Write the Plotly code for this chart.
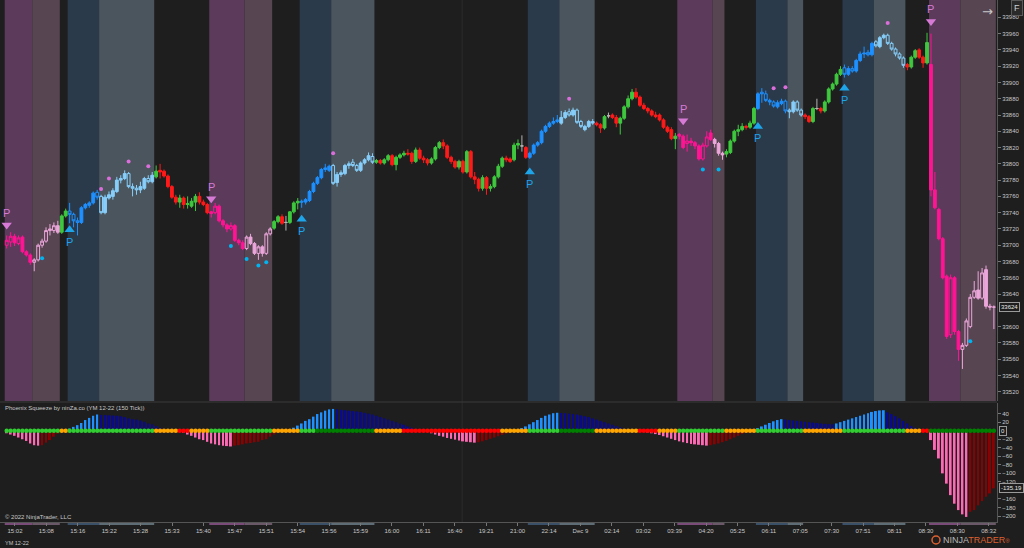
import plotly.graph_objects as go

# ---------------- DATA ----------------
OPEN = [
 33700,33704,33711,33702,33710,33692,33688,33679,33682,33700,
 33705,33718,33718,33724,33716,33736,33742,33738,33730,33728,
 33746,33749,33752,33765,33760,33740,33758,33760,33766,33780,
 33782,33788,33772,33770,33768,33770,33782,33778,33784,33792,
 33791,33785,33772,33759,33753,33758,33750,33748,33753,33760,
 33753,33750,33741,33740,33748,33730,33725,33720,33724,33706,
 33703,33696,33710,33702,33690,33698,33690,33714,33721,33729,
 33735,33728,33728,33741,33752,33754,33753,33755,33766,33776,
 33783,33793,33792,33798,33777,33787,33788,33798,33802,33798,
 33792,33801,33805,33809,33802,33804,33801,33805,33810,33799,
 33808,33811,33813,33813,33803,33817,33807,33805,33801,33806,
 33820,33826,33822,33808,33803,33796,33803,33790,33815,33784,
 33781,33770,33783,33770,33772,33784,33797,33807,33806,33805,
 33823,33822,33820,33808,33813,33823,33826,33840,33846,33850,
 33852,33850,33857,33864,33860,33866,33852,33842,33846,33852,
 33850,33848,33844,33859,33860,33857,33850,33856,33870,33880,
 33888,33882,33872,33868,33865,33860,33860,33854,33845,33842,
 33831,33836,33834,33825,33828,33826,33822,33806,33822,33838,
 33830,33825,33813,33812,33814,33828,33840,33842,33846,33845,
 33850,33868,33888,33886,33878,33876,33870,33874,33877,33866,
 33864,33876,33866,33860,33858,33852,33868,33868,33865,33876,
 33892,33898,33910,33918,33910,33917,33914,33927,33935,33937,
 33934,33950,33944,33955,33958,33948,33941,33935,33930,33922,
 33919,33931,33940,33931,33924,33922,33768,33744,33708,33662,
 33590,33660,33594,33572,33577,33600,33636,33645,33635,33670,
 33625,33624]
HIGH = [
 33712,33716,33714,33712,33712,33694,33690,33684,33702,33708,
 33722,33726,33728,33730,33738,33745,33752,33740,33734,33748,
 33752,33754,33766,33768,33762,33762,33766,33770,33784,33786,
 33792,33790,33776,33774,33778,33784,33786,33790,33798,33800,
 33793,33787,33774,33762,33762,33760,33760,33758,33763,33765,
 33756,33752,33742,33752,33750,33732,33727,33728,33726,33708,
 33706,33712,33714,33704,33700,33700,33716,33722,33731,33737,
 33738,33736,33742,33754,33758,33756,33758,33768,33778,33785,
 33795,33800,33799,33800,33790,33792,33800,33803,33806,33800,
 33803,33807,33814,33813,33806,33806,33807,33812,33812,33810,
 33813,33816,33818,33815,33820,33820,33810,33807,33808,33822,
 33828,33830,33824,33810,33805,33805,33805,33817,33817,33790,
 33783,33786,33785,33775,33786,33800,33809,33810,33808,33826,
 33830,33835,33822,33815,33825,33828,33842,33848,33852,33857,
 33860,33865,33866,33868,33869,33868,33854,33848,33854,33855,
 33852,33850,33860,33863,33862,33860,33858,33872,33884,33892,
 33893,33884,33875,33870,33867,33864,33862,33856,33847,33845,
 33838,33838,33836,33836,33832,33828,33824,33826,33840,33842,
 33832,33827,33815,33818,33830,33842,33848,33850,33848,33853,
 33870,33888,33893,33890,33880,33878,33878,33880,33879,33868,
 33878,33878,33868,33862,33860,33870,33880,33870,33878,33894,
 33900,33912,33920,33922,33920,33920,33929,33938,33944,33940,
 33950,33952,33957,33960,33960,33950,33943,33937,33932,33924,
 33933,33941,33942,33933,33961,33960,33790,33746,33710,33664,
 33664,33662,33596,33580,33610,33640,33656,33668,33672,33675,
 33628,33626]
LOW = [
 33696,33698,33699,33700,33690,33686,33676,33668,33680,33697,
 33703,33712,33715,33714,33714,33734,33727,33722,33712,33726,
 33744,33746,33750,33756,33738,33738,33756,33756,33764,33776,
 33780,33770,33760,33762,33764,33768,33776,33776,33782,33782,
 33783,33770,33757,33750,33746,33745,33745,33746,33742,33750,
 33748,33738,33734,33738,33728,33722,33716,33718,33704,33700,
 33694,33694,33700,33688,33682,33686,33688,33712,33719,33727,
 33725,33718,33726,33739,33744,33746,33750,33753,33764,33774,
 33781,33790,33790,33774,33772,33784,33786,33794,33796,33790,
 33790,33799,33803,33800,33800,33799,33799,33803,33797,33792,
 33806,33809,33810,33800,33801,33805,33801,33798,33799,33804,
 33818,33818,33806,33800,33794,33793,33788,33788,33782,33775,
 33766,33767,33762,33766,33770,33782,33795,33802,33801,33803,
 33818,33815,33806,33806,33811,33821,33824,33838,33844,33848,
 33850,33848,33855,33858,33858,33849,33844,33840,33844,33848,
 33846,33838,33842,33856,33855,33845,33836,33854,33868,33878,
 33880,33870,33866,33862,33858,33856,33852,33843,33838,33829,
 33818,33830,33818,33815,33822,33818,33804,33804,33820,33828,
 33820,33810,33805,33808,33812,33826,33834,33840,33842,33843,
 33848,33866,33875,33876,33872,33869,33868,33872,33862,33856,
 33862,33864,33858,33855,33850,33850,33866,33862,33863,33874,
 33890,33896,33908,33906,33908,33912,33912,33925,33930,33932,
 33932,33943,33942,33953,33946,33939,33932,33928,33918,33915,
 33917,33929,33929,33918,33922,33760,33744,33706,33658,33585,
 33586,33590,33558,33548,33575,33598,33634,33633,33633,33622,
 33620,33597]
CLOSE = [
 33706,33711,33703,33709,33692,33688,33679,33682,33700,33705,
 33718,33720,33724,33716,33736,33742,33738,33730,33728,33746,
 33750,33752,33764,33759,33740,33759,33762,33767,33780,33782,
 33788,33772,33770,33768,33772,33782,33778,33786,33791,33790,
 33785,33772,33759,33753,33758,33750,33751,33754,33760,33753,
 33750,33740,33739,33748,33730,33725,33720,33724,33706,33703,
 33696,33710,33702,33690,33698,33690,33714,33720,33729,33735,
 33727,33728,33741,33752,33754,33753,33756,33766,33776,33783,
 33793,33795,33797,33776,33787,33789,33798,33800,33798,33792,
 33801,33805,33810,33802,33804,33801,33805,33810,33799,33808,
 33811,33813,33812,33803,33817,33807,33805,33801,33806,33820,
 33826,33822,33808,33803,33796,33803,33790,33815,33784,33781,
 33770,33783,33770,33772,33784,33797,33807,33805,33803,33823,
 33825,33822,33808,33813,33823,33826,33840,33846,33850,33852,
 33854,33857,33863,33860,33866,33851,33846,33846,33852,33850,
 33848,33844,33858,33859,33857,33850,33856,33870,33880,33888,
 33882,33872,33868,33865,33860,33858,33854,33845,33840,33831,
 33834,33834,33820,33828,33826,33822,33806,33823,33833,33830,
 33825,33813,33811,33815,33828,33840,33842,33846,33845,33850,
 33868,33886,33886,33878,33876,33871,33875,33877,33865,33864,
 33876,33866,33860,33858,33852,33868,33868,33865,33876,33892,
 33898,33910,33916,33910,33917,33914,33927,33935,33936,33934,
 33948,33945,33955,33958,33948,33941,33935,33930,33921,33919,
 33931,33939,33931,33924,33949,33768,33746,33708,33660,33588,
 33660,33594,33572,33577,33607,33636,33644,33635,33666,33625,
 33624,33624]

# squeeze-fire regimes painted behind the price (kind, first bar, last bar)
BANDS = [("M", 0, 6), ("m", 7, 13), ("B", 16, 23), ("b", 24, 37),
         ("M", 52, 60), ("m", 61, 67), ("B", 75, 82), ("b", 83, 93),
         ("B", 133, 140), ("b", 141, 149), ("M", 171, 179), ("m", 180, 182),
         ("B", 191, 198), ("b", 199, 202), ("B", 213, 220), ("b", 221, 228),
         ("M", 235, 242), ("m", 243, 251)]

# momentum histogram (lower panel)
HIST = ([-6,-9,-12,-16,-20,-24,-30,-34,-35,-34,-28,-22,-14,-7,-2]
        + [1,5,9,13,18,25,30,35,38]
        + [37,36.5,36,35.5,35,34,32,29,27,26,24,21,17,15,11,7,3]
        + [1,-1,-2,-3]
        + [-4.5,-9,-12,-16,-20,-22,-26,-30,-32,-34,-35,-36,-37]
        + [-35,-34,-32,-30,-29,-27,-26,-22,-20,-14,-9,-4]
        + [-2,0.5,2]
        + [7,12,17,23,27,33,39,43,47,50,51]
        + [50,49,48,47,46,45,44,42,40,38,35,32,29,26,23,20,17,14,10,7,4,2]
        + [-1,-3,-6,-9,-12,-14,-17,-19,-21,-23,-25,-26,-27,-28]
        + [-27,-25,-22,-19,-16,-13,-10,-7,-4,-2]
        + [2,6,10,15,20,25,30,35,38,41,42]
        + [41.5,41,40,39,38,36,34,32,29,26,23,20,17,14,11,8,5,2]
        + [1.5,1,0.5]
        + [-2,-4,-6,-8,-10,-13,-16,-19,-22,-25,-27,-29,-31,-32,-33,-34,-35]
        + [-34,-32,-30,-27,-24,-20,-16,-12,-8,-5,-2]
        + [2,6,10,14,18,22,25,27]
        + [26,25,24,23,22,21,20,19,18,17,16,15.5,15]
        + [17,20,23,26,29,32,35,38,41,44,46,47.5,48]
        + [43,39,34,29,23,17,11,7,4,2,1]
        + [-22,-45,-65,-100,-124,-151,-171,-186,-196,-202]
        + [-190,-186,-175,-165,-155,-147,-135.19])

# squeeze state dots on the zero line (state, first bar, last bar)
SQZ = [("G",0,13),("O",14,15),("G",16,37),("O",38,43),("R",44,46),("O",47,51),
       ("G",52,67),("O",68,74),("G",75,78),("D",79,93),("O",94,100),("R",101,125),
       ("O",126,132),("G",133,140),("D",141,149),("O",150,160),("R",161,165),
       ("O",166,170),("G",171,182),("O",183,190),("G",191,202),("O",203,212),
       ("G",213,228),("O",229,232),("R",233,234),("D",235,251)]

X_LABELS = ["15:02","15:08","15:16","15:22","15:28","15:33","15:40","15:47","15:51",
            "15:54","15:56","15:59","16:00","16:11","16:40","19:21","21:00","22:14",
            "Dec 9","02:14","03:02","03:39","04:20","05:25","06:11","07:05","07:30",
            "07:51","08:11","08:30","08:30","08:32"]

P_DOWN = [(0, 33725), (52, 33757), (172, 33853), (235, 33975)]   # bar, price of marker
P_UP = [(16, 33719), (75, 33732), (133, 33790), (191, 33846), (213, 33893)]
DOTS_ABOVE = [(24, 33769), (26, 33782), (31, 33803), (36, 33797), (83, 33813),
              (143, 33880), (195, 33893), (198, 33894), (224, 33973)]
DOTS_BELOW = [(9, 33684), (57, 33699), (61, 33683), (64, 33675), (66, 33679),
              (177, 33793), (181, 33793), (245, 33582)]

LAST_PRICE = 33624
LAST_MOM = -135.19

# ---------------- STYLE ----------------
W, H = 1024, 548
BG = "#1e1e1e"
FONT = "Liberation Sans"
TXT = "#c8c8c8"
BAND_FILL = {"M": "#5c3a5c", "m": "#574552", "B": "#2a3a4b", "b": "#4a555d"}
BAND_STRIP = {"M": "#7a4a78", "m": "#6a5868", "B": "#3a5068", "b": "#5e6c76"}
PAINT = {"M": ("#ff1493", "up_hollow"), "m": ("#eba6da", "up_hollow"),
         "B": ("#1e90ff", "down_hollow"), "b": ("#87cefa", "down_hollow")}
UP_COL, DN_COL, DOJI_COL = "#3fc83f", "#ff1a1a", "#b4b4b4"
SQZ_COL = {"G": "#32cd32", "O": "#ffa500", "R": "#ff0000", "D": "#008000"}
P_PINK, P_BLUE = "#d67ad6", "#1ea4e8"

N = len(CLOSE)
assert len(OPEN) == len(HIGH) == len(LOW) == N == len(HIST) == 252

PX_X0, PX_DX = 6.7, 3.933          # pixel of bar 0, pixels per bar
PLOT_R = 997
X_LO = -PX_X0 / PX_DX
X_HI = (PLOT_R - PX_X0) / PX_DX
MAIN_TOP, MAIN_BOT = 0, 401
LOW_TOP, LOW_BOT = 403, 522
Y_RANGE = [33508.6, 34001.3]
Y2_RANGE = [-213.9, 64.9]

def py(px):
    return 1 - px / H

kind_of = ["N"] * N
for k, a, b in BANDS:
    for i in range(a, b + 1):
        kind_of[i] = k

fig = go.Figure()

# background bands
for k, a, b in BANDS:
    fig.add_shape(type="rect", xref="x", yref="y domain", x0=a - 0.5, x1=b + 0.5,
                  y0=0, y1=1, fillcolor=BAND_FILL[k], line_width=0, layer="below")
    fig.add_shape(type="rect", xref="x", yref="paper", x0=a - 0.5, x1=b + 0.5,
                  y0=py(525), y1=py(523), fillcolor=BAND_STRIP[k], line_width=0, layer="below")

# session break line
fig.add_shape(type="line", xref="x", yref="paper", x0=115.8, x1=115.8, y0=py(LOW_BOT), y1=1,
              line=dict(color="#2c2c2c", width=1), layer="below")

# separator between panels
fig.add_shape(type="line", xref="paper", yref="paper", x0=0, x1=PLOT_R / W,
              y0=py(402), y1=py(402), line=dict(color="#3a3a3a", width=1))

CLEAR = "rgba(0,0,0,0)"
def add_candles(idx, inc_line, inc_fill, dec_line, dec_fill):
    if not idx:
        return
    fig.add_trace(go.Candlestick(
        x=idx, open=[OPEN[i] for i in idx], high=[HIGH[i] for i in idx],
        low=[LOW[i] for i in idx], close=[CLOSE[i] for i in idx],
        increasing=dict(line=dict(color=inc_line, width=1), fillcolor=inc_fill),
        decreasing=dict(line=dict(color=dec_line, width=1), fillcolor=dec_fill),
        whiskerwidth=0, hoverinfo="none", showlegend=False, xaxis="x", yaxis="y"))

for k, (col, mode) in PAINT.items():
    idx = [i for i in range(N) if kind_of[i] == k]
    if mode == "up_hollow":
        add_candles(idx, col, CLEAR, col, col)
    else:
        add_candles(idx, col, col, col, CLEAR)

neutral = [i for i in range(N) if kind_of[i] == "N" and OPEN[i] != CLOSE[i]]
doji = [i for i in range(N) if kind_of[i] == "N" and OPEN[i] == CLOSE[i]]
add_candles(neutral, UP_COL, UP_COL, DN_COL, DN_COL)
add_candles(doji, DOJI_COL, DOJI_COL, DOJI_COL, DOJI_COL)

# signal dots
fig.add_trace(go.Scatter(x=[b for b, _ in DOTS_ABOVE], y=[p for _, p in DOTS_ABOVE],
                         mode="markers", marker=dict(size=4, color="#dc6edc"),
                         hoverinfo="none", showlegend=False))
fig.add_trace(go.Scatter(x=[b for b, _ in DOTS_BELOW], y=[p for _, p in DOTS_BELOW],
                         mode="markers", marker=dict(size=4, color="#00b4f0"),
                         hoverinfo="none", showlegend=False))

# P markers
fig.add_trace(go.Scatter(x=[b for b, _ in P_DOWN], y=[p for _, p in P_DOWN], mode="markers",
                         marker=dict(symbol="triangle-down", size=9, color=P_PINK),
                         hoverinfo="none", showlegend=False))
fig.add_trace(go.Scatter(x=[b for b, _ in P_UP], y=[p for _, p in P_UP], mode="markers",
                         marker=dict(symbol="triangle-up", size=9, color=P_BLUE),
                         hoverinfo="none", showlegend=False))
ann = []
for b, p in P_DOWN:
    ann.append(dict(x=b, y=p, xref="x", yref="y", text="P", showarrow=False, yshift=12,
                    font=dict(size=11, color=P_PINK, family=FONT)))
for b, p in P_UP:
    ann.append(dict(x=b, y=p, xref="x", yref="y", text="P", showarrow=False, yshift=-12,
                    font=dict(size=11, color=P_BLUE, family=FONT)))

# lower panel histogram
hcol = []
for i, v in enumerate(HIST):
    prev = HIST[i - 1] if i > 0 else 0
    if v >= 0:
        hcol.append("#1e90ff" if v >= prev else "#0a0a8c")
    else:
        hcol.append("#ff69b4" if v <= prev else "#8b0000")
fig.add_trace(go.Bar(x=list(range(N)), y=HIST, marker=dict(color=hcol, line_width=0),
                     width=0.5, xaxis="x", yaxis="y2", hoverinfo="none", showlegend=False))

dcol = ["#32cd32"] * N
for s, a, b in SQZ:
    for i in range(a, b + 1):
        dcol[i] = SQZ_COL[s]
fig.add_trace(go.Scatter(x=list(range(N)), y=[0] * N, mode="markers",
                         marker=dict(size=4.5, color=dcol), xaxis="x", yaxis="y2",
                         hoverinfo="none", showlegend=False))

# texts
def ptext(x, y, text, size=6, color=TXT, xanchor="left", family=FONT, **kw):
    ann.append(dict(x=x / W, y=py(y), xref="paper", yref="paper", text=text,
                    showarrow=False, xanchor=xanchor, yanchor="middle",
                    font=dict(size=size, color=color, family=family), **kw))

ptext(3, 408, "Phoenix Squeeze by ninZa.co (YM 12-22 (150 Tick))")
ptext(3, 517, "© 2022 NinjaTrader, LLC")
ptext(3, 543, "YM 12-22", size=5.5)
ptext(941, 540, "<span style='color:#b9b9b9'>NINJA</span><span style='color:#dd6030'>TRADER</span>"
      "<span style='color:#dd6030;font-size:6px'>®</span>", size=9, family=FONT)
ptext(987, 12, "→", size=13, color="#c8c8c8", xanchor="center", family="DejaVu Sans")
ptext(1017, 8, "F", size=9, color="#d0d0d0", xanchor="center",
      bordercolor="#5a5a5a", borderwidth=1, borderpad=2, bgcolor="#2a2a2a")

# logo emblem
fig.add_shape(type="circle", xref="paper", yref="paper", x0=932 / W, x1=940 / W,
              y0=py(544), y1=py(536), line=dict(color="#dd6030", width=1.5))

# boxed current-value labels on the axes
def boxlab(val, yref, text):
    ann.append(dict(x=999 / W, y=val, xref="paper", yref=yref, text=text, showarrow=False,
                    xanchor="left", yanchor="middle", bgcolor=BG, bordercolor="#9a9a9a",
                    borderwidth=1, borderpad=1, font=dict(size=6, color="#e6e6e6", family=FONT)))
boxlab(LAST_PRICE, "y", f"{LAST_PRICE}")
boxlab(0, "y2", "0")
boxlab(LAST_MOM, "y2", f"{LAST_MOM:.2f}")

tick_font = dict(size=6, color=TXT, family=FONT)
fig.update_layout(
    width=W, height=H, margin=dict(l=0, r=0, t=0, b=0, pad=0, autoexpand=False),
    paper_bgcolor=BG, plot_bgcolor=BG, showlegend=False, hovermode=False,
    boxgap=0.2, boxgroupgap=0.1,
    annotations=ann,
    xaxis=dict(domain=[0, PLOT_R / W], range=[X_LO, X_HI], anchor="y2", automargin=False,
               tickvals=[2.1 + 7.987 * k for k in range(len(X_LABELS))], ticktext=X_LABELS,
               ticks="outside", ticklen=3, tickcolor="#777", tickfont=tick_font,
               showgrid=False, zeroline=False, showline=True, linecolor="#555",
               rangeslider=dict(visible=False), fixedrange=True),
    yaxis=dict(domain=[py(MAIN_BOT), py(MAIN_TOP)], range=Y_RANGE, side="right", anchor="x",
               automargin=False, tickformat="d",
               tickvals=[v for v in range(33520, 33981, 20) if v != 33620],
               ticks="outside", ticklen=3, tickcolor="#777", tickfont=tick_font,
               showgrid=False, zeroline=False, showline=True, linecolor="#555", fixedrange=True),
    yaxis2=dict(domain=[py(LOW_BOT), py(LOW_TOP)], range=Y2_RANGE, side="right", anchor="x",
                automargin=False, tickformat="d",
                tickvals=[40, 20, -20, -40, -60, -80, -100, -120, -160, -180, -200],
                ticks="outside", ticklen=3, tickcolor="#777", tickfont=tick_font,
                showgrid=False, zeroline=False, showline=True, linecolor="#555", fixedrange=True),
)

fig.write_html("out.html", config={"displayModeBar": False},
               post_script="document.body.style.margin='0';document.body.style.overflow='hidden';"
                           "document.body.style.background='" + BG + "';")
